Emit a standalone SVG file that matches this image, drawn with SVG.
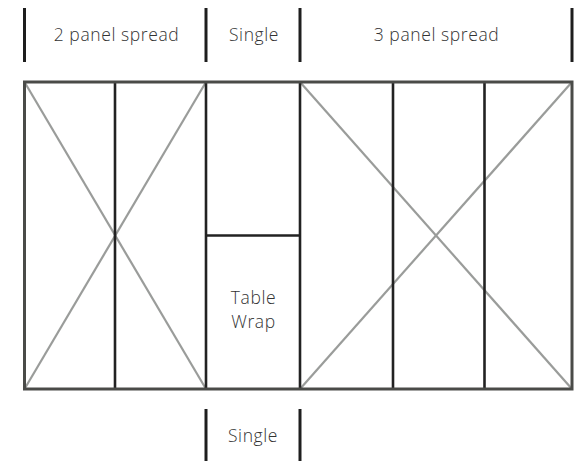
<svg xmlns="http://www.w3.org/2000/svg" width="578" height="461" viewBox="0 0 578 461">
<style>
.lbl{font-family:"Open Sans","Liberation Sans",sans-serif;font-weight:300;font-size:17.5px;letter-spacing:0.6px;fill:#333;text-anchor:middle}
.mark{stroke:#1e1e1e;stroke-width:3}
.diag{stroke:#9a9c9a;stroke-width:2.2;fill:none}
.div{stroke:#222;stroke-width:2.6}
.frame{fill:none;stroke:#4a4b48;stroke-width:3}
</style>
<rect width="578" height="461" fill="#fff"/>
<g id="header">
<line class="mark" x1="24.5" y1="8" x2="24.5" y2="62"/>
<line class="mark" x1="206" y1="8" x2="206" y2="62"/>
<line class="mark" x1="300" y1="8" x2="300" y2="62"/>
<line class="mark" x1="572" y1="8" x2="572" y2="62"/>
<text class="lbl" x="116.5" y="41">2 panel spread</text>
<text class="lbl" x="254" y="41">Single</text>
<text class="lbl" x="436.5" y="41">3 panel spread</text>
</g>
<g id="panel-2">
<line class="diag" x1="24.5" y1="82" x2="206" y2="389"/>
<line class="diag" x1="206" y1="82" x2="24.5" y2="389"/>
<line class="div" x1="115" y1="82" x2="115" y2="389"/>
</g>
<g id="panel-3">
<line class="diag" x1="300" y1="82" x2="572" y2="389"/>
<line class="diag" x1="572" y1="82" x2="300" y2="389"/>
<line class="div" x1="393" y1="82" x2="393" y2="389"/>
<line class="div" x1="484.5" y1="82" x2="484.5" y2="389"/>
</g>
<g id="single">
<line class="div" x1="206" y1="82" x2="206" y2="389"/>
<line class="div" x1="300" y1="82" x2="300" y2="389"/>
<line class="div" x1="206" y1="235.5" x2="300" y2="235.5"/>
<text class="lbl" x="253.5" y="304">Table</text>
<text class="lbl" x="253.5" y="328">Wrap</text>
</g>
<rect class="frame" x="24.5" y="82" width="547.5" height="307"/>
<g id="footer">
<line class="mark" x1="206" y1="409" x2="206" y2="461"/>
<line class="mark" x1="300" y1="409" x2="300" y2="461"/>
<text class="lbl" x="253" y="442">Single</text>
</g>
</svg>
